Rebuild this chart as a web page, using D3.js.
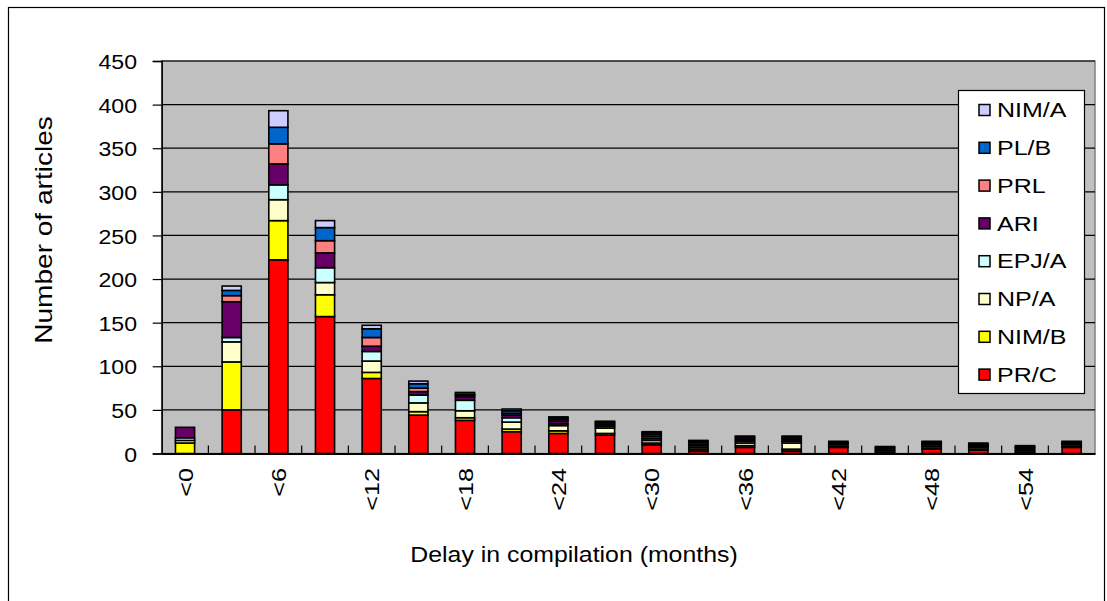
<!DOCTYPE html>
<html><head><meta charset="utf-8">
<script src="https://cdn.jsdelivr.net/npm/d3@7/dist/d3.min.js"></script>
<style>body{margin:0;background:#fff}svg{display:block}text{font-family:"Liberation Sans",Arial,sans-serif;fill:#000}</style>
</head><body><svg id="c" width="1107" height="601"></svg>
<script>
const categories = ["<0","<3","<6","<9","<12","<15","<18","<21","<24","<27","<30","<33","<36","<39","<42","<45","<48","<51","<54","<57"];
const seriesNames = ["PR/C","NIM/B","NP/A","EPJ/A","ARI","PRL","PL/B","NIM/A"];
const PR_C  = [0, 50, 222, 157, 86, 44, 38, 25, 23, 21, 10, 3, 7, 3, 7, 0, 5, 4, 0, 7];
const NIM_B = [12, 55, 45, 25, 7, 4, 3, 3, 3, 2, 2, 2, 2, 2, 1, 1, 1, 1, 1, 1];
const NP_A  = [3, 23, 24, 14, 13, 10, 8, 8, 6, 6, 3, 2, 3, 7, 2, 2, 2, 2, 2, 2];
const EPJ_A = [3, 5, 17, 17, 11, 9, 12, 5, 2, 2, 2, 2, 2, 2, 1, 1, 2, 1, 1, 1];
const ARI   = [12, 41, 24, 17, 6, 4, 4, 3, 3, 2, 3, 2, 2, 2, 1, 2, 1, 1, 2, 1];
const PRL   = [0, 7, 23, 14, 10, 4, 2, 2, 2, 2, 2, 2, 2, 2, 1, 1, 1, 1, 1, 1];
const PL_B  = [0, 6, 19, 15, 10, 5, 1, 3, 2, 1, 2, 1, 1, 1, 0, 1, 1, 1, 1, 0];
const NIM_A = [0, 5, 19, 8, 4, 3, 2, 2, 1, 1, 1, 1, 1, 1, 1, 0, 1, 1, 1, 1];
const seriesColors = ["#FF0000","#FFFF00","#FFFFCC","#CCFFFF","#660066","#FF8080","#0066CC","#CCCCFF"];
const yTicks = [0,50,100,150,200,250,300,350,400,450];
const xTickLabels = ["<0","<6","<12","<18","<24","<30","<36","<42","<48","<54"];

const seriesValues = [PR_C, NIM_B, NP_A, EPJ_A, ARI, PRL, PL_B, NIM_A];
const table = categories.map((c,i)=>{const o={cat:c}; seriesNames.forEach((s,k)=>o[s]=seriesValues[k][i]); return o;});

const svg = d3.select("#c");
const L=161.7, R=1095, T=61, B=453.5;

svg.append("rect").attr("x",8.5).attr("y",7.5).attr("width",1096).attr("height",620)
  .attr("fill","#fff").attr("stroke","#000").attr("stroke-width",1.2);

const x = d3.scaleBand().domain(categories).range([L,R]).paddingInner(0.59).paddingOuter(0.295);
const y = d3.scaleLinear().domain([0,450]).range([B,T]);

svg.append("rect").attr("x",L).attr("y",T).attr("width",R-L).attr("height",B-T)
  .attr("fill","#C0C0C0").attr("stroke","#808080").attr("stroke-width",1.5);

svg.append("g").selectAll("line").data(yTicks.filter(d=>d>0)).join("line")
  .attr("x1",L).attr("x2",R).attr("y1",d=>y(d)).attr("y2",d=>y(d))
  .attr("stroke","#000").attr("stroke-width",1.2);

const stack = d3.stack().keys(seriesNames)(table);
svg.append("g").selectAll("g").data(stack).join("g")
  .attr("fill",(d,i)=>seriesColors[i])
  .selectAll("rect").data(d=>d).join("rect")
  .attr("x",d=>x(d.data.cat)).attr("width",x.bandwidth())
  .attr("y",d=>y(d[1])).attr("height",d=>y(d[0])-y(d[1]))
  .attr("stroke","#000").attr("stroke-width",1.6);

const yAxis = d3.axisLeft(y).tickValues(yTicks).tickSize(9).tickPadding(0);
const gy = svg.append("g").attr("transform",`translate(${L},0)`).call(yAxis);
gy.select(".domain").attr("stroke","#000").attr("stroke-width",1.5);
gy.selectAll(".tick line").attr("stroke","#000").attr("stroke-width",1.2);
const sy=1.1;
gy.selectAll(".tick text").attr("font-size",21).attr("font-family","Liberation Sans, Arial")
  .attr("x",-24.7/sy).attr("dy","0.36em").attr("transform",`scale(${sy},1)`).attr("text-anchor","end");

const gx = svg.append("g").attr("transform",`translate(0,${B})`)
  .call(d3.axisBottom(x).tickValues([]).tickSize(0));
gx.select(".domain").attr("stroke","#000").attr("stroke-width",2);
const step = x.step();
svg.append("g").selectAll("line").data(d3.range(1,categories.length)).join("line")
  .attr("x1",i=>L+i*step).attr("x2",i=>L+i*step).attr("y1",B).attr("y2",B-8)
  .attr("stroke","#000").attr("stroke-width",1.2);
const sx=1.2;
svg.append("g").selectAll("text").data(xTickLabels).join("text")
  .attr("font-size",21).attr("text-anchor","end").attr("dy","0.36em")
  .attr("transform",d=>`translate(${x(d)+x.bandwidth()/2},468) rotate(-90) scale(${sx},1)`)
  .text(d=>d);

svg.append("text").attr("font-size",22).attr("text-anchor","middle")
  .attr("transform","translate(574,562) scale(1.13,1)").text("Delay in compilation (months)");
svg.append("text").attr("font-size",23).attr("text-anchor","middle")
  .attr("transform","translate(52,230) rotate(-90) scale(1.22,1)").text("Number of articles");

const lg = svg.append("g");
lg.append("rect").attr("x",958.5).attr("y",90.5).attr("width",126).attr("height",303)
  .attr("fill","#fff").attr("stroke","#000").attr("stroke-width",1.2);
const legendOrder = seriesNames.map((s,i)=>i).reverse();
const items = lg.selectAll("g.it").data(legendOrder).join("g").attr("class","it")
  .attr("transform",(d,j)=>`translate(0,${110+j*37.8})`);
items.append("rect").attr("x",979).attr("y",-5.5).attr("width",11).attr("height",11)
  .attr("fill",d=>seriesColors[d]).attr("stroke","#000").attr("stroke-width",1.5);
items.append("text").attr("font-size",20).attr("dy","0.36em")
  .attr("transform","translate(997,0) scale(1.25,1)").text(d=>seriesNames[d]);
</script></body></html>
